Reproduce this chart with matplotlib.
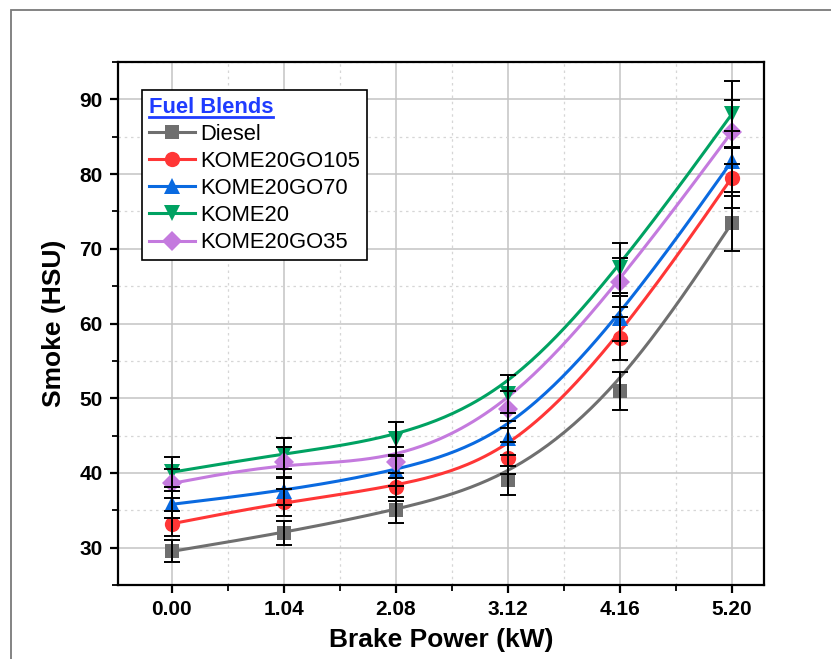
import numpy as np
import matplotlib
matplotlib.use("Agg")
import matplotlib.pyplot as plt
from matplotlib.patches import Rectangle
from matplotlib.lines import Line2D
from matplotlib.ticker import MultipleLocator

plt.rcParams['font.family'] = ['Liberation Sans', 'DejaVu Sans']

# Brake power levels (kW)
brake_power = [0.00, 1.04, 2.08, 3.12, 4.16, 5.20]
tick_labels = ["0.00", "1.04", "2.08", "3.12", "4.16", "5.20"]

# Smoke opacity (HSU) for each fuel blend
diesel = [29.5, 32.0, 35.0, 39.0, 51.0, 73.4]
kome20go105 = [33.2, 36.1, 38.1, 42.0, 58.0, 79.5]
kome20go70 = [35.8, 37.6, 40.2, 44.7, 60.7, 81.7]
kome20 = [40.1, 42.6, 44.6, 50.6, 67.4, 88.0]
kome20go35 = [38.6, 41.4, 41.4, 48.5, 65.5, 85.6]

series_names = ["Diesel", "KOME20GO105", "KOME20GO70", "KOME20", "KOME20GO35"]
error_pct = 5.0  # measurement uncertainty, % of reading

series = [diesel, kome20go105, kome20go70, kome20, kome20go35]
colors = ['#6f6f6f', '#ff3636', '#0a6ae0', '#00a262', '#c47ade']
markers = ['s', 'o', '^', 'v', 'D']
msizes = [10, 11, 11, 11, 10]


def bspline(px, py, n=40):
    """Uniform cubic B-spline through the end points, using the data as
    control points (end points tripled so the curve is pinned there)."""
    qx = np.concatenate([[px[0]] * 2, px, [px[-1]] * 2])
    qy = np.concatenate([[py[0]] * 2, py, [py[-1]] * 2])
    t = np.linspace(0, 1, n)
    b0 = (1 - t) ** 3 / 6
    b1 = (3 * t ** 3 - 6 * t ** 2 + 4) / 6
    b2 = (-3 * t ** 3 + 3 * t ** 2 + 3 * t + 1) / 6
    b3 = t ** 3 / 6
    xs, ys = [], []
    for i in range(len(qx) - 3):
        xs.append(b0 * qx[i] + b1 * qx[i + 1] + b2 * qx[i + 2] + b3 * qx[i + 3])
        ys.append(b0 * qy[i] + b1 * qy[i + 1] + b2 * qy[i + 2] + b3 * qy[i + 3])
    return np.concatenate(xs), np.concatenate(ys)


fig = plt.figure(figsize=(8.31, 6.59), dpi=100)
ax = fig.add_axes([118/831, 1 - 585/659, (764 - 118)/831, (585 - 62)/659])

x = np.array(brake_power)

for vals, name, c, m, ms in zip(series, series_names, colors, markers, msizes):
    y = np.array(vals)
    cx, cy = bspline(x, y)
    ax.plot(cx, cy, color=c, lw=2.2, zorder=3)
    ax.plot(x, y, ls='none', marker=m, color=c, ms=ms, mew=0, zorder=4)
    ax.errorbar(x, y, yerr=y * error_pct / 100.0, fmt='none', ecolor='black',
                elinewidth=1.4, capsize=5.5, capthick=1.4, zorder=5)

ax.set_xlim(-0.5, 5.5)
ax.set_ylim(25, 95)
ax.set_xticks(brake_power)
ax.set_xticklabels(tick_labels)
ax.xaxis.set_minor_locator(MultipleLocator(0.52))
ax.yaxis.set_major_locator(MultipleLocator(10))
ax.yaxis.set_minor_locator(MultipleLocator(5))

ax.grid(which='major', color='#c4c4c4', lw=1.1, zorder=0)
ax.grid(which='minor', color='#d6d6d6', lw=0.9, ls=(0, (2, 3)), zorder=0)
ax.set_axisbelow(True)

for s in ax.spines.values():
    s.set_linewidth(1.6)
    s.set_color('black')

ax.tick_params(which='major', direction='out', length=6, width=1.6,
               labelsize=15, pad=5)
ax.tick_params(which='minor', direction='out', length=4, width=1.3)
for lab in ax.get_xticklabels() + ax.get_yticklabels():
    lab.set_fontweight('bold')

ax.set_xlabel("Brake Power (kW)", fontsize=19, fontweight='bold', labelpad=6)
ax.set_ylabel("Smoke (HSU)", fontsize=19, fontweight='bold', labelpad=10)

handles = [Line2D([], [], color=c, lw=2.2, marker=m, ms=ms, mew=0)
           for c, m, ms in zip(colors, markers, msizes)]
leg = ax.legend(handles, series_names, title="Fuel Blends", loc='upper left',
                bbox_to_anchor=((142 - 118) / 646, 1 - (90 - 62) / 523),
                borderaxespad=0, fontsize=15.8, title_fontsize=15.8,
                alignment='left', fancybox=False, framealpha=1,
                edgecolor='black', handlelength=2.1, handletextpad=0.25,
                labelspacing=0.28, borderpad=0.3)
leg.get_frame().set_linewidth(1.2)
leg.set_zorder(10)
title = leg.get_title()
title.set_fontweight('bold')
title.set_color('#1f3cff')

# underline the legend title
fig.canvas.draw()
bb = title.get_window_extent().transformed(fig.transFigure.inverted())
fig.add_artist(Line2D([bb.x0, bb.x1], [bb.y0 + 0.001, bb.y0 + 0.001],
                      transform=fig.transFigure, color='#1f3cff', lw=2,
                      zorder=11))

# outer page frame
fig.add_artist(Rectangle((11/831, -0.2), 1.2, 1.2 - 10/659 + 0.0,
                         transform=fig.transFigure, fill=False,
                         edgecolor='#7a7a7a', lw=1.3, clip_on=False))

fig.savefig("out.png", dpi=100)
